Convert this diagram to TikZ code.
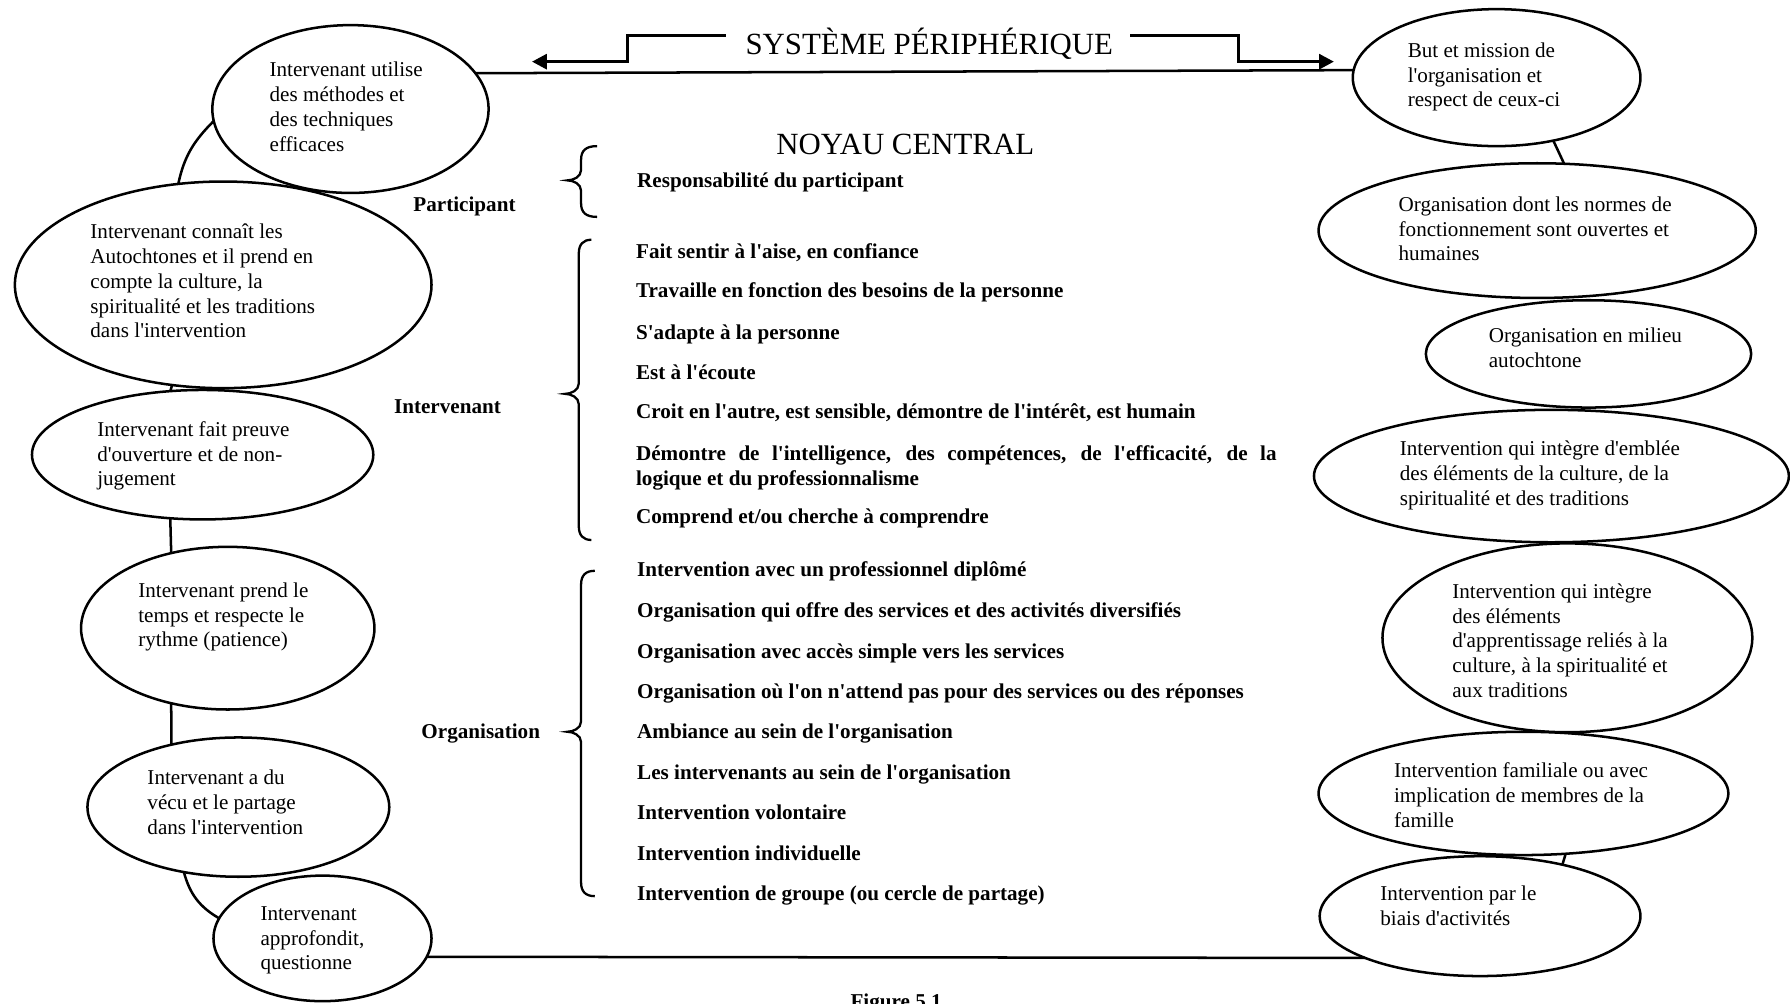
\documentclass[tikz,border=0pt]{standalone}
\usepackage{fontspec}
\setmainfont{Liberation Serif}[Ligatures=TeXOff]
\usetikzlibrary{shapes.geometric,arrows.meta,calc}
\newcommand\bt{\fontsize{18.5}{21.7}\selectfont}
\newcommand\bigt{\fontsize{27}{30}\selectfont}
\newcommand\fst{\rule{0pt}{17pt}}
\newcommand\drawbrace[6]{\draw[brc] (#1,-#4) .. controls ({#2+4},-#4) and (#2,{-#4-4}) .. (#2,{-#4-12}) -- (#2,{-#5+9}) .. controls (#2,{-#5+3}) and ({#3+5},-#5) .. (#3,-#5) .. controls ({#3+5},-#5) and (#2,{-#5-3}) .. (#2,{-#5-9}) -- (#2,{-#6+12}) .. controls (#2,{-#6+4}) and ({#2+4},-#6) .. (#1,-#6);}
\begin{document}
\begin{tikzpicture}[x=1pt,y=1pt,
  ell/.style={ellipse, draw, line width=2.2pt, inner sep=0pt, outer sep=0pt},
  etxt/.style={anchor=north west, inner sep=0pt, align=left, font=\bt},
  ctr/.style={anchor=base west, inner sep=0pt, font=\bt\bfseries},
  grp/.style={anchor=base west, inner sep=0pt, font=\bt\bfseries},
  link/.style={line width=2.2pt},
  arr/.style={line width=2.8pt, -{Triangle[length=13pt,width=13pt]}},
  brc/.style={line width=2pt}]
\useasboundingbox[fill=white] (0,0) rectangle (1568,-879);

% left ellipses
\node[ell, minimum width=242pt, minimum height=147pt] (L1) at (307,-95.5) {};
\node[ell, minimum width=365pt, minimum height=181pt] (L2) at (195.5,-249.5) {};
\node[ell, minimum width=299pt, minimum height=113.4pt] (L3) at (177.5,-398.3) {};
\node[ell, minimum width=257pt, minimum height=142.5pt] (L4) at (199.5,-550.25) {};
\node[ell, minimum width=264.4pt, minimum height=122pt] (L5) at (208.8,-707) {};
\node[ell, minimum width=191pt, minimum height=110pt] (L6) at (282.5,-822) {};
% right ellipses
\node[ell, minimum width=252pt, minimum height=120pt] (R1) at (1311,-68) {};
\node[ell, minimum width=383pt, minimum height=118pt] (R2) at (1346.5,-202) {};
\node[ell, minimum width=285pt, minimum height=94pt] (R3) at (1391.5,-310) {};
\node[ell, minimum width=416pt, minimum height=116pt] (R4) at (1359,-417) {};
\node[ell, minimum width=324pt, minimum height=165.4pt] (R5) at (1373,-558.7) {};
\node[ell, minimum width=359pt, minimum height=108pt] (R6) at (1334.5,-695) {};
\node[ell, minimum width=281pt, minimum height=105pt] (R7) at (1296.5,-802.5) {};

% connectors
\draw[link] (L2.114.9) to[out=78,in=225] (L1.185);
\draw[link] (L2.-117.7) -- (L3.117.1);
\draw[link] (L3.-117.1) -- (L4.127.6);
\draw[link] (L4.-127.6) -- (L5.137.7);
\draw[link] (L5.-130) to[out=-75,in=150] (L6.169.6);
\draw[link] (R1.-48.5) -- (R2.68.7);
\draw[link] (R6.-55) -- (R7.32.1);
\draw[link] (L1.16.7) -- (R1.177.7);
\draw[link] (L6.-10.6) -- (R7.-160.1);

% ellipse texts
\node[etxt] (L1t) at (236,-50) {\fst Intervenant utilise\\des méthodes et\\des techniques\\efficaces};
\node[etxt] (L2t) at (79,-192) {\fst Intervenant connaît les\\Autochtones et il prend en\\compte la culture, la\\spiritualité et les traditions\\dans l'intervention};
\node[etxt] (L3t) at (85,-365) {\fst Intervenant fait preuve\\d'ouverture et de non-\\jugement};
\node[etxt] (L4t) at (121,-506) {\fst Intervenant prend le\\temps et respecte le\\rythme (patience)};
\node[etxt] (L5t) at (129,-670) {\fst Intervenant a du\\vécu et le partage\\dans l'intervention};
\node[etxt] (L6t) at (228,-789) {\fst Intervenant\\approfondit,\\questionne};
\node[etxt] (R1t) at (1233,-33) {\fst But et mission de\\l'organisation et\\respect de ceux-ci};
\node[etxt] (R2t) at (1225,-168) {\fst Organisation dont les normes de\\fonctionnement sont ouvertes et\\humaines};
\node[etxt] (R3t) at (1304,-283) {\fst Organisation en milieu\\autochtone};
\node[etxt] (R4t) at (1226,-382) {\fst Intervention qui intègre d'emblée\\des éléments de la culture, de la\\spiritualité et des traditions};
\node[etxt] (R5t) at (1272,-507) {\fst Intervention qui intègre\\des éléments\\d'apprentissage reliés à la\\culture, à la spiritualité et\\aux traditions};
\node[etxt] (R6t) at (1221,-664) {\fst Intervention familiale ou avec\\implication de membres de la\\famille};
\node[etxt] (R7t) at (1209,-772) {\fst Intervention par le\\biais d'activités};

% title and arrows
\node[font=\bigt, anchor=base, inner sep=0pt] (title) at (814,-48) {SYSTÈME PÉRIPHÉRIQUE};
\coordinate (ta1) at ($(title.base west)+(-17,17)$);
\coordinate (lt) at (466,-54);
\draw[arr] (ta1) -- ++(-86.5,0) |- (lt);
\coordinate (ta2) at ($(title.base east)+(15,17)$);
\coordinate (rt) at (1168.5,-54);
\draw[arr] (ta2) -| ++(95,-23) -- (rt);

% central core
\node[font=\bigt, anchor=base, inner sep=0pt] (noyau) at (793,-135) {NOYAU CENTRAL};
\node[grp] (gP) at (362,-185) {Participant};
\node[grp] (gI) at (345,-362) {Intervenant};
\node[grp] (gO) at (369,-647) {Organisation};
\drawbrace{523}{509}{497}{128}{158}{190}
\drawbrace{518}{507}{495}{210}{345}{473}
\drawbrace{521}{509}{497}{500}{641}{785}

\node[ctr] (p1) at (558,-164) {Responsabilité du participant};
\node[ctr] (i1) at (557,-226) {Fait sentir à l'aise, en confiance};
\node[ctr] (i2) at (557,-261) {Travaille en fonction des besoins de la personne};
\node[ctr] (i3) at (557,-297) {S'adapte à la personne};
\node[ctr] (i4) at (557,-332) {Est à l'écoute};
\node[ctr] (i5) at (557,-367) {Croit en l'autre, est sensible, démontre de l'intérêt, est humain};
\node[ctr] (i6) at (557,-403) {\makebox[561pt][s]{Démontre de l'intelligence, des compétences, de l'efficacité, de la}};
\node[ctr] (i6b) at (557,-425) {logique et du professionnalisme};
\node[ctr] (i7) at (557,-459) {Comprend et/ou cherche à comprendre};
\node[ctr] (o1) at (558,-505) {Intervention avec un professionnel diplômé};
\node[ctr] (o2) at (558,-541) {Organisation qui offre des services et des activités diversifiés};
\node[ctr] (o3) at (558,-577) {Organisation avec accès simple vers les services};
\node[ctr] (o4) at (558,-612) {Organisation où l'on n'attend pas pour des services ou des réponses};
\node[ctr] (o5) at (558,-647) {Ambiance au sein de l'organisation};
\node[ctr] (o6) at (558,-683) {Les intervenants au sein de l'organisation};
\node[ctr] (o7) at (558,-718) {Intervention volontaire};
\node[ctr] (o8) at (558,-754) {Intervention individuelle};
\node[ctr] (o9) at (558,-789) {Intervention de groupe (ou cercle de partage)};

\node[font=\bt\bfseries, anchor=base, inner sep=0pt] (fig) at (785,-883) {Figure 5.1};
\end{tikzpicture}
\end{document}
